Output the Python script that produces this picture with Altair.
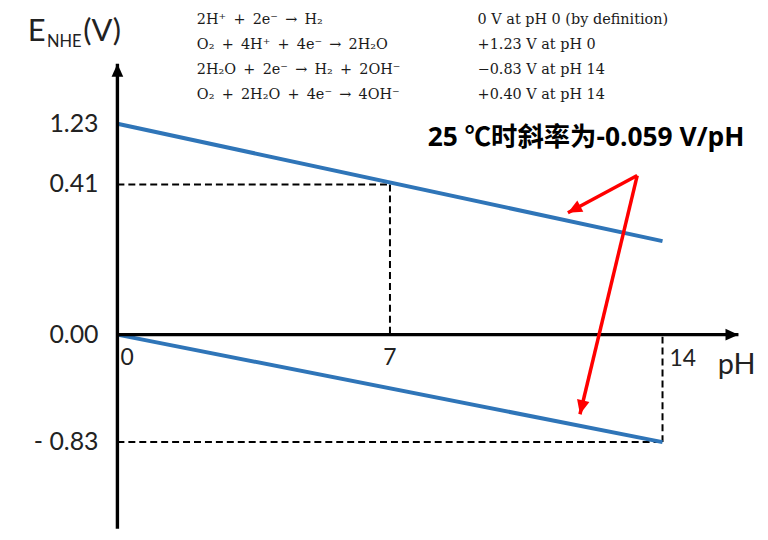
import altair as alt
import pandas as pd

# ---------------- data ----------------
ph_ticks = [0, 7, 14]
ph_tick_labels = ["0", "7", "14"]
e_ticks = [1.23, 0.41, 0.00, -0.83]
e_tick_labels = ["1.23", "0.41", "0.00", "- 0.83"]

# O2/H2O couple and H+/H2 couple (schematic lines)
line_series = ["O2/H2O", "O2/H2O", "H+/H2", "H+/H2"]
line_ph = [0, 14, 0, 14]
line_e = [1.23, 0.40, 0.00, -0.83]

# dashed guide segments
guide_ph1 = [0, 7, 0, 14]
guide_e1 = [0.41, 0.41, -0.83, -0.83]
guide_ph2 = [7, 7, 14, 14]
guide_e2 = [0.41, 0.00, -0.83, 0.00]

# axis arrow extents (data units)
axis_ph_end = 15.95
axis_e_low = -1.5
axis_e_high = 2.04

# slope annotation arrows: common start -> tips
arrow_start_ph = 13.35
arrow_start_e = 0.53
arrow_tip_ph = [11.57, 11.88]
arrow_tip_e = [0.405, -0.615]
arrow_angle = [241.8, 193.4]

# reaction table
SP = "\u2002"
reactions = [f"2H\u207a{SP}+{SP}2e\u207b{SP}\u2192{SP}H\u2082",
             f"O\u2082{SP}+{SP}4H\u207a{SP}+{SP}4e\u207b{SP}\u2192{SP}2H\u2082O",
             f"2H\u2082O{SP}+{SP}2e\u207b{SP}\u2192{SP}H\u2082{SP}+{SP}2OH\u207b",
             f"O\u2082{SP}+{SP}2H\u2082O{SP}+{SP}4e\u207b{SP}\u2192{SP}4OH\u207b"]
potentials = ["0 V at pH 0 (by definition)",
              "+1.23 V at pH 0",
              "\u22120.83 V at pH 14",
              "+0.40 V at pH 14"]
table_e = [2.574, 2.238, 1.902, 1.566]
table_ph_left = 2.04
table_ph_right = 9.25

slope_text = "25 \u2103\u65f6\u659c\u7387\u4e3a-0.059 V/pH"

# ---------------- scales ----------------
xs = alt.Scale(domain=[0, 14], range=[110, 658], nice=False, zero=False)
ys = alt.Scale(domain=[-0.83, 0.0, 0.40, 0.41, 1.23],
               range=[435, 327, 233, 176, 115], nice=False, zero=False)


def X(f="ph"):
    return alt.X(f"{f}:Q", scale=xs, axis=None)


def Y(f="e"):
    return alt.Y(f"{f}:Q", scale=ys, axis=None)


BLUE = "#2F75B8"
RED = "#FF0000"
TICKFONT = "Lato"
TABFONT = "DejaVu Serif"
ARROW = "M0,0L-0.9,2L0.9,2Z"

# axes lines
axes_df = pd.DataFrame({
    "ph": [0, 0], "e": [0, axis_e_low],
    "ph2": [axis_ph_end, 0], "e2": [0, axis_e_high],
})
axes = alt.Chart(axes_df).mark_rule(color="black", strokeWidth=3.4).encode(
    x=X(), y=Y(), x2="ph2:Q", y2="e2:Q")

heads_df = pd.DataFrame({"ph": [axis_ph_end, 0], "e": [0, axis_e_high], "ang": [90, 0]})
heads = alt.Chart(heads_df).mark_point(
    shape=ARROW, filled=True, color="black", size=170, opacity=1, strokeWidth=0
).encode(x=X(), y=Y(), angle=alt.Angle("ang:Q", scale=None))

# dashed guides
guides_df = pd.DataFrame({"ph": guide_ph1, "e": guide_e1, "ph2": guide_ph2, "e2": guide_e2})
guides = alt.Chart(guides_df).mark_rule(
    color="black", strokeWidth=2, strokeDash=[7, 4]
).encode(x=X(), y=Y(), x2="ph2:Q", y2="e2:Q")

# blue lines
lines_df = pd.DataFrame({"series": line_series, "ph": line_ph, "e": line_e})
lines = alt.Chart(lines_df).mark_line(color=BLUE, strokeWidth=4).encode(
    x=X(), y=Y(), detail="series:N")

# red arrows
arr_df = pd.DataFrame({
    "ph": [arrow_start_ph] * 2, "e": [arrow_start_e] * 2,
    "ph2": arrow_tip_ph, "e2": arrow_tip_e,
})
arr_lines = alt.Chart(arr_df).mark_rule(color=RED, strokeWidth=3.5).encode(
    x=X(), y=Y(), x2="ph2:Q", y2="e2:Q")
arr_heads_df = pd.DataFrame({"ph": arrow_tip_ph, "e": arrow_tip_e, "ang": arrow_angle})
arr_heads = alt.Chart(arr_heads_df).mark_point(
    shape=ARROW, filled=True, color=RED, size=200, opacity=1, strokeWidth=0
).encode(x=X(), y=Y(), angle=alt.Angle("ang:Q", scale=None))

# tick labels
ytl_df = pd.DataFrame({"ph": [0] * 4, "e": e_ticks, "t": e_tick_labels})
ytl = alt.Chart(ytl_df).mark_text(
    align="right", baseline="middle", dx=-19, font=TICKFONT, fontSize=25, color="#222222"
).encode(x=X(), y=Y(), text="t:N")

xt_df = pd.DataFrame({"ph": ph_ticks, "e": [0, 0, 0], "t": ph_tick_labels})
xtl_left = alt.Chart(xt_df[xt_df.t == "0"]).mark_text(
    align="left", baseline="middle", dx=3, dy=23, font=TICKFONT, fontSize=23, color="#222222"
).encode(x=X(), y=Y(), text="t:N")
xtl_mid = alt.Chart(xt_df[xt_df.t == "7"]).mark_text(
    align="center", baseline="middle", dx=0, dy=23, font=TICKFONT, fontSize=23, color="#222222"
).encode(x=X(), y=Y(), text="t:N")
xtl_right = alt.Chart(xt_df[xt_df.t == "14"]).mark_text(
    align="left", baseline="middle", dx=7, dy=24, font=TICKFONT, fontSize=23, color="#222222"
).encode(x=X(), y=Y(), text="t:N")

# axis titles
ph_title = alt.Chart(pd.DataFrame({"ph": [15.42], "e": [-0.231], "t": ["pH"]})).mark_text(
    align="left", baseline="middle", font=TICKFONT, fontSize=29, color="#222222"
).encode(x=X(), y=Y(), text="t:N")

etitle_df = pd.DataFrame({
    "ph": [-2.30, -1.81, -0.88], "e": [2.346, 2.262, 2.346],
    "t": ["E", "NHE", "(V)"], "s": [31, 16.5, 31],
})
etitle = alt.Chart(etitle_df).mark_text(
    align="left", baseline="alphabetic", font=TICKFONT, color="#222222"
).encode(x=X(), y=Y(), text="t:N", size=alt.Size("s:Q", scale=None))

# reaction table
tab_df = pd.DataFrame({"e": table_e, "r": reactions, "p": potentials})
tab_left = alt.Chart(tab_df).transform_calculate(ph=str(table_ph_left)).mark_text(
    align="left", baseline="alphabetic", font=TABFONT, fontSize=14.5, color="#1a1a1a"
).encode(x=X(), y=Y(), text="r:N")
tab_right = alt.Chart(tab_df).transform_calculate(ph=str(table_ph_right)).mark_text(
    align="left", baseline="alphabetic", font=TABFONT, fontSize=14.5, color="#1a1a1a"
).encode(x=X(), y=Y(), text="p:N")

# slope note
note = alt.Chart(pd.DataFrame({"ph": [7.97], "e": [1.042], "t": [slope_text]})).mark_text(
    align="left", baseline="middle", font="Open Sans, Noto Sans CJK SC", fontWeight="bold",
    fontSize=26.5, color="black"
).encode(x=X(), y=Y(), text="t:N")

chart = alt.layer(
    guides, lines, axes, heads, arr_lines, arr_heads,
    ytl, xtl_left, xtl_mid, xtl_right, ph_title, etitle, tab_left, tab_right, note
).properties(
    width=756, height=528, padding=0, autosize="none", background="white"
).configure_view(stroke=None)

chart.save("out.html", embed_options={"renderer": "svg", "actions": False})
